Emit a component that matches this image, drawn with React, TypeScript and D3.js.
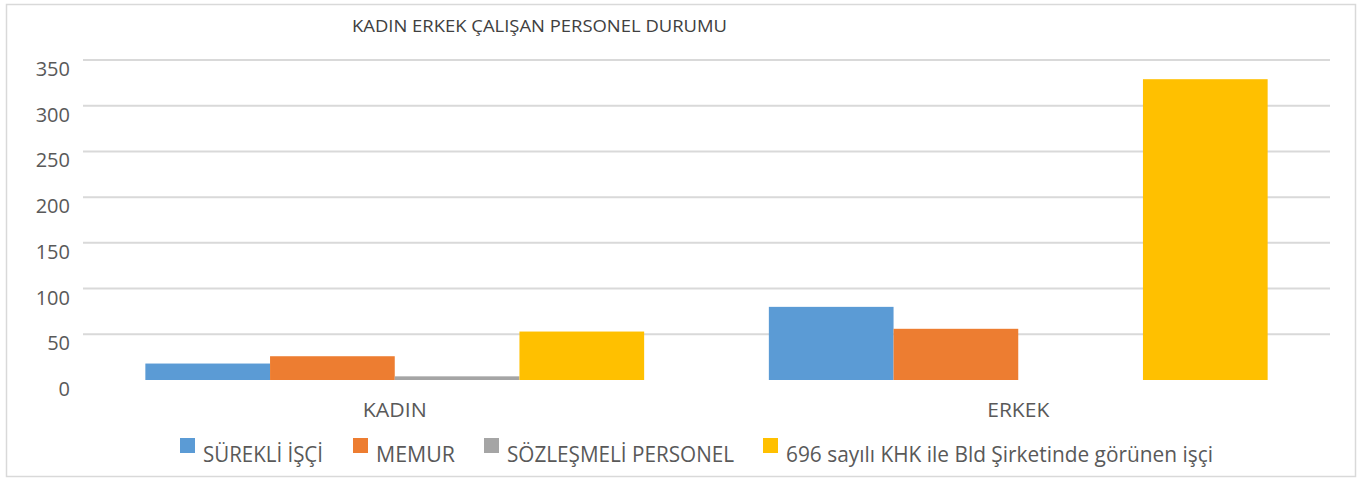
import * as d3 from "d3";

const categories = ["KADIN", "ERKEK"];
const seriesNames = [
  "SÜREKLİ İŞÇİ",
  "MEMUR",
  "SÖZLEŞMELİ PERSONEL",
  "696 sayılı KHK ile Bld Şirketinde görünen işçi",
];
const surekliIsci = [18, 80];
const memur = [26, 56];
const sozlesmeli = [4, 0];
const khkIsci = [53, 329];
const yTicks = [0, 50, 100, 150, 200, 250, 300, 350];

const colors = ["#5b9bd5", "#ed7d31", "#a5a5a5", "#ffc000"];
const legendWidths = [120, 79, 227, 427];
const legendX = [180, 353, 484, 763];
const categoryWidths = [64, 62];

const W = 1370;
const H = 479;
const margin = { top: 60, right: 40, bottom: 99, left: 83 };
const font = "'Open Sans', 'DejaVu Sans', sans-serif";

export default function App() {
  const values = [surekliIsci, memur, sozlesmeli, khkIsci];

  const x = d3
    .scaleBand<string>()
    .domain(categories)
    .range([margin.left, W - margin.right])
    .paddingInner(0)
    .paddingOuter(0);

  const x1 = d3
    .scaleBand<number>()
    .domain(d3.range(seriesNames.length))
    .range([0, x.bandwidth()])
    .paddingOuter(0.5)
    .paddingInner(0);

  const y = d3
    .scaleLinear()
    .domain([0, 350])
    .range([H - margin.bottom, margin.top]);

  return (
    <svg
      width={W}
      height={H}
      style={{ position: "absolute", left: 0, top: 0, background: "#fff" }}
      fontFamily={font}
    >
      <rect x={6.5} y={4.5} width={1349} height={472} fill="#fff" stroke="#d9d9d9" strokeWidth={1.5} />

      <text
        x={352}
        y={32}
        fontSize={17}
        fill="#404040"
        textLength={375}
        lengthAdjust="spacingAndGlyphs"
      >
        KADIN ERKEK ÇALIŞAN PERSONEL DURUMU
      </text>

      {yTicks.slice(1).map((t) => (
        <line
          key={t}
          x1={margin.left}
          x2={W - margin.right}
          y1={y(t)}
          y2={y(t)}
          stroke="#d9d9d9"
          strokeWidth={2}
        />
      ))}

      {yTicks.map((t) => (
        <text
          key={t}
          x={70}
          y={y(t) + 16}
          textAnchor="end"
          fontSize={20}
          fill="#595959"
        >
          {t}
        </text>
      ))}

      {categories.map((c, ci) =>
        values.map((s, si) => (
          <rect
            key={c + si}
            x={(x(c) ?? 0) + (x1(si) ?? 0)}
            y={y(s[ci])}
            width={x1.bandwidth()}
            height={y(0) - y(s[ci])}
            fill={colors[si]}
          />
        ))
      )}

      {categories.map((c, ci) => (
        <text
          key={c}
          x={(x(c) ?? 0) + x.bandwidth() / 2 - categoryWidths[ci] / 2}
          y={417}
          fontSize={20}
          fill="#595959"
          textLength={categoryWidths[ci]}
          lengthAdjust="spacingAndGlyphs"
        >
          {c}
        </text>
      ))}

      {seriesNames.map((n, i) => (
        <g key={n}>
          <rect x={legendX[i]} y={438} width={15} height={15} fill={colors[i]} />
          <text
            x={legendX[i] + 23}
            y={462}
            fontSize={21}
            fill="#595959"
            textLength={legendWidths[i]}
            lengthAdjust="spacingAndGlyphs"
          >
            {n}
          </text>
        </g>
      ))}
    </svg>
  );
}
